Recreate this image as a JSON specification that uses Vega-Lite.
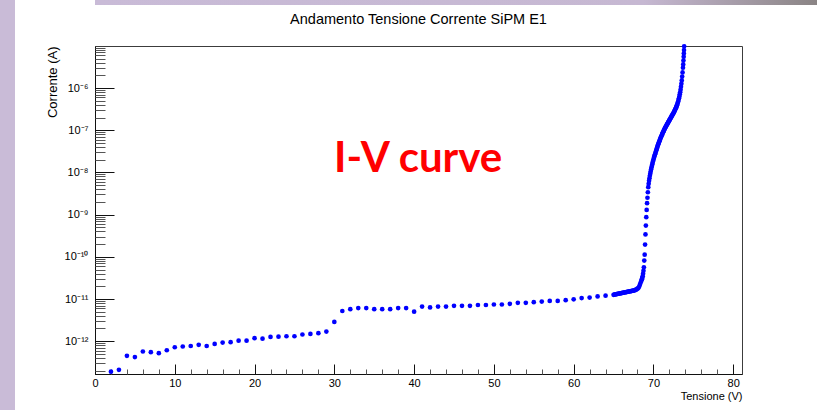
{
  "$schema": "https://vega.github.io/schema/vega-lite/v6.json",
  "padding": 0,
  "autosize": {"type": "pad"},
  "background": "#ffffff",
  "spacing": 30,
  "config": {"view": {"stroke": null}, "axis": {"grid": false}},
  "hconcat": [
    {
      "width": 15,
      "height": 410,
      "data": {"values": [{}]},
      "mark": {"type": "rect", "color": "#c9bbd7"},
      "encoding": {}
    },
    {
      "spacing": 0,
      "vconcat": [
        {
          "width": 722,
          "height": 5,
          "data": {"values": [{}]},
          "mark": {"type": "rect", "color": {"gradient": "linear", "x1": 0, "x2": 1, "y1": 0, "y2": 0, "stops": [{"offset": 0, "color": "#c9bbd7"}, {"offset": 0.76, "color": "#c6b8d2"}, {"offset": 1, "color": "#8a8484"}]}},
          "encoding": {}
        },
        {
          "width": 647,
          "height": 328,
          "view": {"stroke": "#3c3c3c", "strokeWidth": 1},
          "title": {"text": ["", "Andamento Tensione Corrente SiPM E1"], "lineHeight": 6.5, "anchor": "middle", "frame": "group", "offset": 16, "font": "Liberation Sans, Arial, sans-serif", "fontSize": 14.5, "fontWeight": "normal", "color": "#000000"},
          "layer": [
            {
              "data": {"values": [
                {"v":2,"i":1.9e-13},{"v":3,"i":2.1e-13},{"v":4,"i":4.5e-13},{"v":5,"i":4.2e-13},{"v":6,"i":5.7e-13},{"v":7,"i":5.5e-13},{"v":8,"i":5.2e-13},{"v":9,"i":6.1e-13},{"v":10,"i":7.2e-13},{"v":11,"i":7.5e-13},{"v":12,"i":7.7e-13},{"v":13,"i":8.2e-13},{"v":14,"i":7.7e-13},{"v":15,"i":8.6e-13},{"v":16,"i":9.3e-13},{"v":17,"i":9.5e-13},{"v":18,"i":1.03e-12},{"v":19,"i":1.03e-12},{"v":20,"i":1.18e-12},{"v":21,"i":1.15e-12},{"v":22,"i":1.26e-12},{"v":23,"i":1.28e-12},{"v":24,"i":1.31e-12},{"v":25,"i":1.31e-12},{"v":26,"i":1.44e-12},{"v":27,"i":1.49e-12},{"v":28,"i":1.55e-12},{"v":29,"i":1.69e-12},{"v":30,"i":2.87e-12},{"v":31,"i":5.2e-12},{"v":32,"i":5.75e-12},{"v":33,"i":6.1e-12},{"v":34,"i":6.1e-12},{"v":35,"i":5.75e-12},{"v":36,"i":5.75e-12},{"v":37,"i":5.75e-12},{"v":38,"i":6.1e-12},{"v":39,"i":6.1e-12},{"v":40,"i":5.0e-12},{"v":41,"i":6.6e-12},{"v":42,"i":6.3e-12},{"v":43,"i":6.6e-12},{"v":44,"i":6.6e-12},{"v":45,"i":6.9e-12},{"v":46,"i":6.9e-12},{"v":47,"i":6.9e-12},{"v":48,"i":7.2e-12},{"v":49,"i":7.2e-12},{"v":50,"i":7.4e-12},{"v":51,"i":7.4e-12},{"v":52,"i":7.7e-12},{"v":53,"i":8.1e-12},{"v":54,"i":8.1e-12},{"v":55,"i":8.4e-12},{"v":56,"i":8.7e-12},{"v":57,"i":9.0e-12},{"v":58,"i":9.0e-12},{"v":59,"i":9.4e-12},{"v":60,"i":9.8e-12},{"v":61,"i":1.05e-11},{"v":62,"i":1.08e-11},{"v":63,"i":1.15e-11},{"v":64,"i":1.2e-11},
                {"v":65.0,"i":1.259e-11},{"v":65.1,"i":1.271e-11},{"v":65.2,"i":1.282e-11},{"v":65.3,"i":1.294e-11},{"v":65.4,"i":1.306e-11},{"v":65.5,"i":1.318e-11},{"v":65.6,"i":1.33e-11},{"v":65.7,"i":1.343e-11},{"v":65.8,"i":1.355e-11},{"v":65.9,"i":1.368e-11},{"v":66.0,"i":1.38e-11},{"v":66.1,"i":1.393e-11},{"v":66.2,"i":1.406e-11},{"v":66.3,"i":1.419e-11},{"v":66.4,"i":1.432e-11},{"v":66.5,"i":1.445e-11},{"v":66.6,"i":1.459e-11},{"v":66.7,"i":1.472e-11},{"v":66.8,"i":1.486e-11},{"v":66.9,"i":1.5e-11},{"v":67.0,"i":1.514e-11},{"v":67.1,"i":1.528e-11},{"v":67.2,"i":1.542e-11},{"v":67.3,"i":1.556e-11},{"v":67.4,"i":1.57e-11},{"v":67.5,"i":1.585e-11},{"v":67.6,"i":1.603e-11},{"v":67.7,"i":1.622e-11},{"v":67.8,"i":1.66e-11},{"v":67.9,"i":1.698e-11},{"v":68.0,"i":1.758e-11},{"v":68.1,"i":1.82e-11},{"v":68.2,"i":1.95e-11},{"v":68.3,"i":2.188e-11},{"v":68.4,"i":2.455e-11},{"v":68.5,"i":2.754e-11},{"v":68.55,"i":2.951e-11},{"v":68.6,"i":3.162e-11},{"v":68.65,"i":3.467e-11},{"v":68.7,"i":3.981e-11},{"v":68.75,"i":4.677e-11},{"v":68.8,"i":5.623e-11},{"v":68.85,"i":8.128e-11},{"v":68.9,"i":1.122e-10},{"v":68.95,"i":1.95e-10},{"v":69.0,"i":3.388e-10},{"v":69.05,"i":5.495e-10},{"v":69.1,"i":8.71e-10},{"v":69.15,"i":1.288e-9},{"v":69.2,"i":1.862e-9},{"v":69.25,"i":2.512e-9},{"v":69.3,"i":3.388e-9},{"v":69.35,"i":4.467e-9},
                {"v":69.4,"i":5.37e-9},{"v":69.45,"i":6.31e-9},{"v":69.5,"i":7.244e-9},{"v":69.55,"i":8.318e-9},{"v":69.6,"i":9.333e-9},{"v":69.65,"i":1.047e-8},{"v":69.7,"i":1.175e-8},{"v":69.75,"i":1.288e-8},{"v":69.8,"i":1.413e-8},{"v":69.85,"i":1.549e-8},{"v":69.9,"i":1.698e-8},{"v":69.95,"i":1.862e-8},{"v":70.0,"i":1.995e-8},{"v":70.05,"i":2.188e-8},{"v":70.1,"i":2.344e-8},{"v":70.15,"i":2.512e-8},{"v":70.2,"i":2.692e-8},{"v":70.25,"i":2.884e-8},{"v":70.3,"i":3.09e-8},{"v":70.35,"i":3.311e-8},{"v":70.4,"i":3.548e-8},{"v":70.45,"i":3.802e-8},{"v":70.5,"i":4.074e-8},{"v":70.55,"i":4.365e-8},{"v":70.6,"i":4.677e-8},{"v":70.65,"i":4.898e-8},{"v":70.7,"i":5.248e-8},{"v":70.75,"i":5.495e-8},{"v":70.8,"i":5.888e-8},{"v":70.85,"i":6.166e-8},{"v":70.9,"i":6.607e-8},{"v":70.95,"i":6.918e-8},{"v":71.0,"i":7.244e-8},{"v":71.05,"i":7.586e-8},{"v":71.1,"i":8.128e-8},{"v":71.15,"i":8.511e-8},{"v":71.2,"i":8.913e-8},{"v":71.25,"i":9.333e-8},{"v":71.3,"i":9.772e-8},{"v":71.35,"i":1.023e-7},{"v":71.4,"i":1.072e-7},{"v":71.45,"i":1.122e-7},{"v":71.5,"i":1.175e-7},{"v":71.55,"i":1.202e-7},{"v":71.6,"i":1.259e-7},{"v":71.65,"i":1.318e-7},{"v":71.7,"i":1.38e-7},{"v":71.75,"i":1.413e-7},{"v":71.8,"i":1.479e-7},{"v":71.85,"i":1.549e-7},{"v":71.9,"i":1.585e-7},{"v":71.95,"i":1.66e-7},{"v":72.0,"i":1.738e-7},{"v":72.05,"i":1.778e-7},{"v":72.1,"i":1.862e-7},{"v":72.15,"i":1.95e-7},{"v":72.2,"i":1.995e-7},{"v":72.25,"i":2.089e-7},{"v":72.3,"i":2.188e-7},{"v":72.35,"i":2.239e-7},{"v":72.4,"i":2.344e-7},{"v":72.45,"i":2.455e-7},{"v":72.5,"i":2.512e-7},{"v":72.55,"i":2.63e-7},{"v":72.6,"i":2.754e-7},{"v":72.65,"i":2.884e-7},{"v":72.7,"i":3.02e-7},{"v":72.75,"i":3.162e-7},{"v":72.8,"i":3.311e-7},{"v":72.85,"i":3.467e-7},{"v":72.9,"i":3.715e-7},{"v":72.95,"i":3.89e-7},{"v":73.0,"i":4.169e-7},{"v":73.05,"i":4.467e-7},{"v":73.1,"i":4.786e-7},{"v":73.15,"i":5.248e-7},{"v":73.2,"i":5.754e-7},{"v":73.25,"i":6.31e-7},{"v":73.3,"i":7.079e-7},{"v":73.35,"i":7.943e-7},{"v":73.4,"i":9.12e-7},{"v":73.45,"i":1.072e-6},{"v":73.5,"i":1.259e-6},{"v":73.55,"i":1.514e-6},{"v":73.6,"i":1.862e-6},{"v":73.65,"i":2.344e-6},{"v":73.7,"i":3.02e-6},{"v":73.73,"i":3.631e-6},{"v":73.76,"i":4.467e-6},{"v":73.79,"i":5.495e-6},{"v":73.81,"i":6.607e-6},{"v":73.83,"i":7.943e-6},{"v":73.85,"i":9.772e-6}
              ]},
              "mark": {"type": "circle", "size": 22, "color": "#0000ff", "opacity": 1},
              "encoding": {
                "x": {"field": "v", "type": "quantitative",
                  "scale": {"domain": [0, 81.1], "nice": false, "zero": false},
                  "axis": {"orient": "bottom", "values": [0,10,20,30,40,50,60,70,80], "format": "d", "labelFlush": false, "labelOverlap": false, "tickSize": -10, "tickColor": "#111111", "domainColor": "#111111", "labelPadding": 13, "labelFont": "Liberation Sans, Arial, sans-serif", "labelFontSize": 11, "labelColor": "#000000", "title": "Tensione (V)", "titleAnchor": "end", "titleFont": "Liberation Sans, Arial, sans-serif", "titleFontSize": 11, "titleFontWeight": "normal", "titleColor": "#000000", "titlePadding": 2}},
                "y": {"field": "i", "type": "quantitative",
                  "scale": {"type": "log", "domain": [1.67e-13, 9.9e-6], "nice": false},
                  "axis": {"orient": "left", "values": [1e-12,1e-11,1e-10,1e-9,1e-8,1e-7,1e-6], "labelExpr": "'10' + (datum.value < 3e-12 ? '⁻¹²' : datum.value < 3e-11 ? '⁻¹¹' : datum.value < 3e-10 ? '⁻¹⁰' : datum.value < 3e-9 ? '⁻⁹' : datum.value < 3e-8 ? '⁻⁸' : datum.value < 3e-7 ? '⁻⁷' : '⁻⁶')", "labelOverlap": false, "tickSize": -19, "tickColor": "#111111", "domainColor": "#111111", "labelPadding": 26, "labelFont": "Liberation Sans, Arial, sans-serif", "labelFontSize": 11, "labelColor": "#000000", "title": "Corrente (A)", "titleAnchor": "end", "titleFont": "Liberation Sans, Arial, sans-serif", "titleFontSize": 13, "titleFontWeight": "normal", "titleColor": "#000000", "titlePadding": 5}}
              }
            },
            {
              "data": {"values": [{"v": 40.5, "i": 1e-8, "label": "I-V curve"}]},
              "mark": {"type": "text", "font": "Lato", "fontWeight": "bold", "fontSize": 42, "color": "#ff0000", "align": "center", "baseline": "alphabetic"},
              "encoding": {
                "x": {"field": "v", "type": "quantitative",
                  "scale": {"domain": [0, 81.1], "nice": false, "zero": false},
                  "axis": {"orient": "bottom", "values": [2,4,6,8,12,14,16,18,22,24,26,28,32,34,36,38,42,44,46,48,52,54,56,58,62,64,66,68,72,74,76,78], "labels": false, "domain": false, "tickSize": -5, "tickColor": "#555555", "title": null}},
                "y": {"field": "i", "type": "quantitative",
                  "scale": {"type": "log", "domain": [1.67e-13, 9.9e-6], "nice": false},
                  "axis": {"orient": "left", "values": [2e-13,3e-13,4e-13,5e-13,6e-13,7e-13,8e-13,9e-13,2e-12,3e-12,4e-12,5e-12,6e-12,7e-12,8e-12,9e-12,2e-11,3e-11,4e-11,5e-11,6e-11,7e-11,8e-11,9e-11,2e-10,3e-10,4e-10,5e-10,6e-10,7e-10,8e-10,9e-10,2e-9,3e-9,4e-9,5e-9,6e-9,7e-9,8e-9,9e-9,2e-8,3e-8,4e-8,5e-8,6e-8,7e-8,8e-8,9e-8,2e-7,3e-7,4e-7,5e-7,6e-7,7e-7,8e-7,9e-7,2e-6,3e-6,4e-6,5e-6,6e-6,7e-6,8e-6,9e-6], "labels": false, "domain": false, "tickSize": -10, "tickColor": "#555555", "title": null}},
                "text": {"field": "label"}
              }
            }
          ],
          "resolve": {"axis": {"x": "independent", "y": "independent"}}
        }
      ]
    }
  ]
}
